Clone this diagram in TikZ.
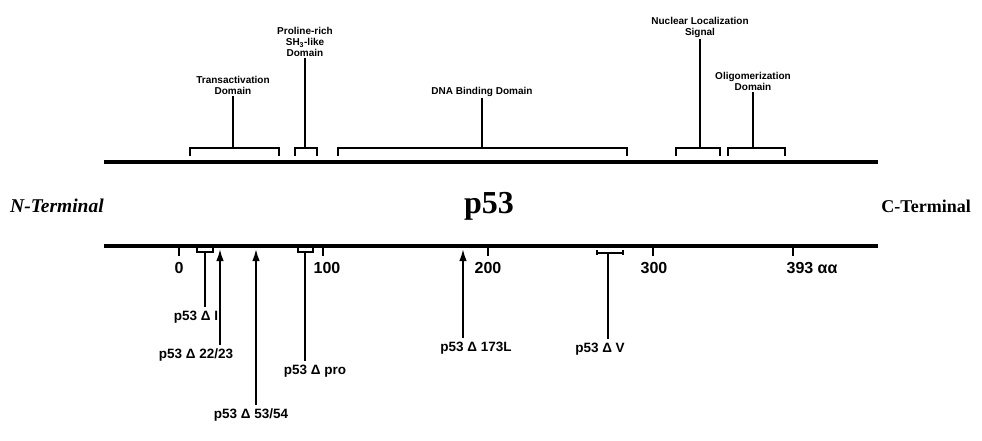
\documentclass[tikz,border=0pt]{standalone}
\usepackage{fontspec}
\setmainfont{Liberation Serif}
\newfontfamily\labfont{Liberation Sans}
\usetikzlibrary{arrows.meta}
\tikzset{
  mainline/.style={line width=4pt},
  brk/.style={line width=2pt},
  stem/.style={line width=1.8pt},
  tick/.style={line width=2.6pt},
  uparrow/.style={line width=1.8pt,-{Latex[length=12pt,width=7.5pt]}},
  toplab/.style={font=\labfont\bfseries\fontsize{10}{11}\selectfont,align=center,inner sep=1pt,anchor=south},
  botlab/.style={font=\labfont\bfseries\fontsize{13.5}{15}\selectfont,inner sep=0pt,outer sep=4pt},
  numlab/.style={font=\labfont\bfseries\fontsize{16}{18}\selectfont,inner sep=0pt},
  termlab/.style={font=\bfseries\fontsize{18}{20}\selectfont,inner sep=0pt}
}
\begin{document}
\begin{tikzpicture}[x=1pt,y=-1pt]
\useasboundingbox (0,0) rectangle (982,440);
% main lines
\coordinate (tl) at (104,162); \coordinate (tr) at (878,162);
\coordinate (bl) at (104,246); \coordinate (br) at (878,246);
\draw[mainline] (tl) -- (tr);
\draw[mainline] (bl) -- (br);
% centre texts
\node[termlab,font=\bfseries\itshape\fontsize{19.5}{21}\selectfont,anchor=west] (nterm) at (10,206) {N-Terminal};
\node[termlab,anchor=east] (cterm) at (971,206) {C-Terminal};
\node[inner sep=0pt,font=\bfseries\fontsize{32}{36}\selectfont] (p53) at (489,206) {p53};
% top brackets
\draw[brk] (190,156) -- (190,148) -- (279,148) -- (279,156);
\draw[brk] (295,156) -- (295,148) -- (317,148) -- (317,156);
\draw[brk] (338,156) -- (338,148) -- (627,148) -- (627,156);
\draw[brk] (676,156) -- (676,148) -- (720,148) -- (720,156);
\draw[brk] (728,156) -- (728,148) -- (785,148) -- (785,156);
\coordinate (bTA) at (233,148);
\coordinate (bPR) at (305,148);
\coordinate (bDNA) at (482,148);
\coordinate (bNLS) at (700,148);
\coordinate (bOL) at (753,148);
\node[toplab] (lTA) at (233,96) {Transactivation\\Domain};
\node[toplab] (lPR) at (305,58) {Proline-rich\\SH\textsubscript{3}-like\\Domain};
\node[toplab] (lDNA) at (482,98) {DNA Binding Domain};
\node[toplab] (lNLS) at (700,39) {Nuclear Localization\\Signal};
\node[toplab] (lOL) at (753,92) {Oligomerization\\Domain};
\draw[stem] (bTA) -- (lTA.south);
\draw[stem] (bPR) -- (lPR.south);
\draw[stem] (bDNA) -- (lDNA.south);
\draw[stem] (bNLS) -- (lNLS.south);
\draw[stem] (bOL) -- (lOL.south);
% scale ticks
\foreach \x/\n in {179/t0,323/t100,488/t200,653/t300,793/t393}{
  \coordinate (\n) at (\x,248);
  \draw[tick] (\n) -- ++(0,8);
}
\node[numlab] (n0) at (179,268) {0};
\node[numlab] (n100) at (327,268) {100};
\node[numlab] (n200) at (488,268) {200};
\node[numlab] (n300) at (654,268) {300};
\node[numlab] (n393) at (812,268) {393 αα};
% mutation labels
\node[botlab] (mI) at (196,317) {p53 Δ I};
\node[botlab] (m22) at (196,355) {p53 Δ 22/23};
\node[botlab] (m53) at (251,415) {p53 Δ 53/54};
\node[botlab] (mpro) at (315,371) {p53 Δ pro};
\node[botlab] (m173) at (476,348) {p53 Δ 173L};
\node[botlab] (mV) at (600,349) {p53 Δ V};
% small brackets under the line
\draw[brk] (197,248) -- (197,252) -- (213,252) -- (213,248);
\draw[brk] (298,248) -- (298,252) -- (313,252) -- (313,248);
\draw[brk] (597,250) -- (597,255) (597,253) -- (623,253) (623,250) -- (623,255);
\coordinate (sI) at (205,252);
\coordinate (spro) at (305,252);
\coordinate (sV) at (608,253);
\draw[stem] (sI) -- (sI |- mI.north);
\draw[stem] (spro) -- (spro |- mpro.north);
\draw[stem] (sV) -- (sV |- mV.north);
% arrows
\coordinate (a22) at (220,249);
\coordinate (a53) at (256,249);
\coordinate (a173) at (463,249);
\draw[uparrow] (a22 |- m22.north) -- (a22);
\draw[uparrow] (a53 |- m53.north) -- (a53);
\draw[uparrow] (a173 |- m173.north) -- (a173);
\end{tikzpicture}
\end{document}
